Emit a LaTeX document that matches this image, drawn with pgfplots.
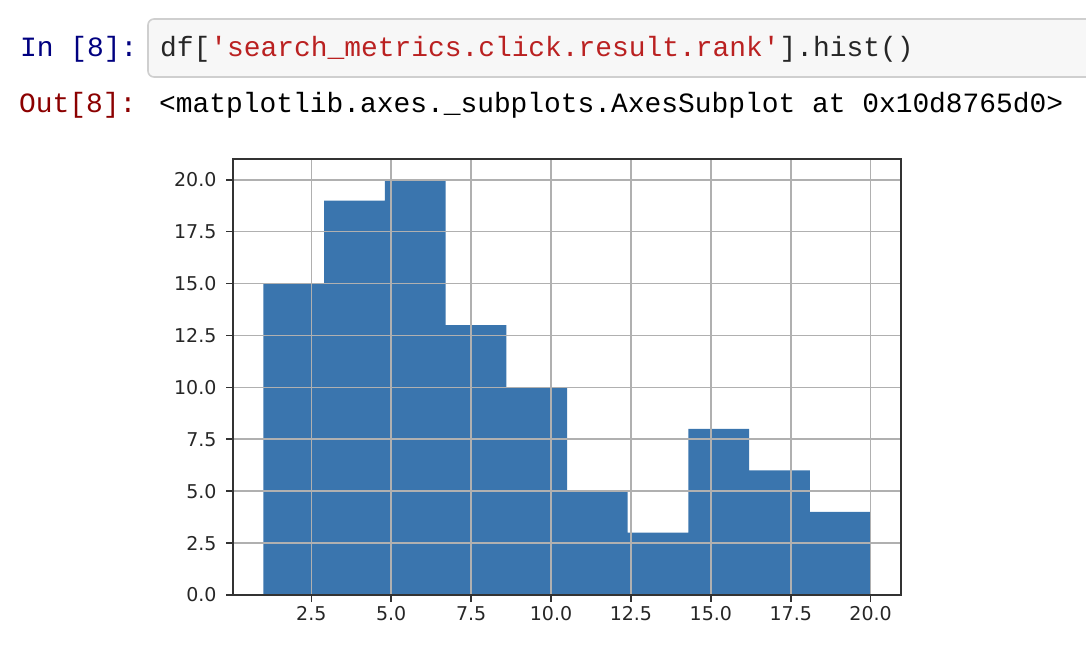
\documentclass[border=0pt]{standalone}
\usepackage{fontspec}
\setmainfont{DejaVu Sans}
\setmonofont{Liberation Mono}
\usepackage{pgfplots}
\pgfplotsset{compat=1.18}
\definecolor{barblue}{HTML}{3A75AE}
\definecolor{gridgray}{HTML}{B0B0B0}
\definecolor{promptin}{HTML}{000080}
\definecolor{promptout}{HTML}{8B0000}
\definecolor{strred}{HTML}{BA2121}
\definecolor{boxbg}{HTML}{F7F7F7}
\definecolor{boxborder}{HTML}{CFCFCF}
\definecolor{spine}{HTML}{333333}
\begin{document}
\begin{tikzpicture}[x=1pt,y=1pt]
\useasboundingbox (0,0) rectangle (1086,656);
% code cell
\draw[draw=boxborder, fill=boxbg, rounded corners=6pt, line width=1.6pt] (148,637) rectangle (1110,579);
\node[anchor=base west, inner sep=0, text=promptin, font=\ttfamily\fontsize{27.9}{30}\selectfont] at (20,599) {In [8]:};
\node[anchor=base west, inner sep=0, text=black!85, font=\ttfamily\fontsize{27.9}{30}\selectfont] at (160,599) {df[\textcolor{strred}{'search\_metrics.click.result.rank'}].hist()};
\node[anchor=base west, inner sep=0, text=promptout, font=\ttfamily\fontsize{27.9}{30}\selectfont] at (19,543) {Out[8]:};
\node[anchor=base west, inner sep=0, text=black, font=\ttfamily\fontsize{27.9}{30}\selectfont] at (159,543) {<matplotlib.axes.\_subplots.AxesSubplot at 0x10d8765d0>};
\begin{axis}[
  at={(233pt,61pt)}, anchor=south west,
  width=668pt, height=436pt, scale only axis,
  xmin=0.05, xmax=20.95, ymin=0, ymax=21,
  xtick={2.5,5,7.5,10,12.5,15,17.5,20},
  ytick={0,2.5,5,7.5,10,12.5,15,17.5,20},
  grid=major,
  grid style={line width=1.6pt, color=gridgray},
  axis line style={line width=1.6pt, spine},
  tick style={line width=1.6pt, spine},
  major tick length=7pt,
  tick align=outside,
  xtick pos=bottom, ytick pos=left,
  axis on top,
  ticklabel style={font=\fontsize{19}{19}\selectfont, text=black!85},
  yticklabel style={xshift=-6pt},
  xticklabel style={yshift=-1pt},
  /pgf/number format/.cd, fixed, fixed zerofill, precision=1, assume math mode=true,
]
\addplot[ybar interval, fill=barblue, draw=none] coordinates {
(1,15) (2.9,19) (4.8,20) (6.7,13) (8.6,10) (10.5,5) (12.4,3) (14.3,8) (16.2,6) (18.1,4) (20,4)
};
\end{axis}
\end{tikzpicture}
\end{document}
